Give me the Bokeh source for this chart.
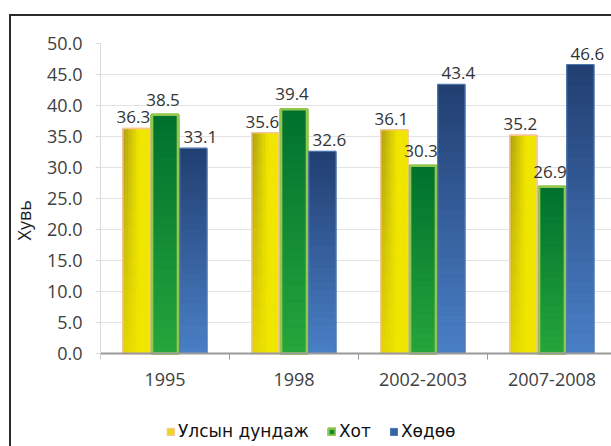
from bokeh.plotting import figure
from bokeh.models import FixedTicker, NumeralTickFormatter, Legend, LegendItem, Range1d, Title
from bokeh.core.properties import value
from bokeh.embed import file_html
from bokeh.resources import INLINE

# ---- data ----
categories = ["1995", "1998", "2002-2003", "2007-2008"]
series_names = ["Улсын дундаж", "Хот", "Хөдөө"]
national = [36.3, 35.6, 36.1, 35.2]
urban = [38.5, 39.4, 30.3, 26.9]
rural = [33.1, 32.6, 43.4, 46.6]
y_ticks = [0, 5, 10, 15, 20, 25, 30, 35, 40, 45, 50]
y_label = "Хувь"

# ---- style ----
FONT = "Open Sans"
TXT = "#404040"
BAR_W = 0.21
OFFSETS = [-0.222, 0.0, 0.22]
LABEL_DX = [-3, -2, 7]      # px, per series
LABEL_DY = [-11, -15, -11]  # px, per series
FRAME = "#2a2a2a"
W, H = 611, 446
LEFT, TOP = 100, 43
CAT_PX = 129.0
Y_PX = 6.2


def lerp(c1, c2, t):
    return "#%02x%02x%02x" % tuple(int(round(a + (b - a) * t)) for a, b in zip(c1, c2))


y_min = -(H - TOP - 50 * Y_PX) / Y_PX
p = figure(width=W, height=H, output_backend="svg", toolbar_location=None,
           x_range=Range1d(0, (W - LEFT) / CAT_PX), y_range=Range1d(y_min, 50),
           min_border_left=LEFT, min_border_right=0, min_border_top=TOP, min_border_bottom=0)
p.styles = {"background": (f"linear-gradient({FRAME},{FRAME}) 9px 14px / 2px calc(100% - 14px) no-repeat, "
                           f"linear-gradient({FRAME},{FRAME}) 9px 14px / calc(100% - 9px) 2px no-repeat, #ffffff")}
p.outline_line_color = None
p.background_fill_color = "white"
p.border_fill_color = None
p.border_fill_alpha = 0

n = len(categories)
centers = [[i + 0.5 + OFFSETS[s] for i in range(n)] for s in range(3)]

# ---- base bars (also used as legend glyphs) ----
base1 = p.vbar(x=centers[0], width=BAR_W, top=national, fill_color="#e6da10", line_color="#f7c596", line_width=1.5)
base2 = p.vbar(x=centers[1], width=BAR_W, top=urban, fill_color="#128a36", line_color="#93c74c", line_width=2.5)
base3 = p.vbar(x=centers[2], width=BAR_W, top=rural, fill_color="#3462a4", line_color="#4f79b4", line_width=1)

# yellow: 2D shading (darker at the upper-left)
Y_BRIGHT = (240, 230, 0)
Y_DARK = (172, 156, 18)
NC, NR = 10, 14
xs, ws, bots, tops, cols = [], [], [], [], []
for i, v in enumerate(national):
    cx = centers[0][i]
    for c in range(NC):
        u = (c + 0.5) / NC
        for r in range(NR):
            vv = (r + 0.5) / NR
            f = max(0.0, 1 - u / 0.6) * (0.25 + 0.75 * vv)
            xs.append(cx - BAR_W / 2 + (c + 0.5) * BAR_W / NC)
            ws.append(BAR_W / NC)
            bots.append(v * r / NR)
            tops.append(v * (r + 1) / NR)
            cols.append(lerp(Y_BRIGHT, Y_DARK, f))
p.vbar(x=xs, width=ws, bottom=bots, top=tops, fill_color=cols, line_color=cols, line_width=0.6)
p.vbar(x=centers[0], width=BAR_W, top=national, fill_color=None, line_color="#f7c596", line_width=1.5)


def vgrad(vals, cx_list, bottom_c, top_c, N=28):
    xs, bots, tops, cols = [], [], [], []
    for cx, v in zip(cx_list, vals):
        for k in range(N):
            t = (k + 0.5) / N
            xs.append(cx)
            bots.append(v * k / N)
            tops.append(v * (k + 1) / N)
            cols.append(lerp(bottom_c, top_c, t))
    p.vbar(x=xs, width=BAR_W, bottom=bots, top=tops, fill_color=cols, line_color=cols, line_width=0.6)


vgrad(urban, centers[1], (38, 166, 60), (0, 112, 46))
p.vbar(x=centers[1], width=BAR_W - 0.01, top=urban, fill_color=None, line_color="#93c74c", line_width=2.5)
vgrad(rural, centers[2], (74, 128, 199), (33, 62, 112))
p.vbar(x=centers[2], width=BAR_W, top=rural, fill_color=None, line_color="#4f79b4", line_width=1)

# ---- data labels ----
for s, vals in enumerate([national, urban, rural]):
    p.text(x=centers[s], y=vals, text=["%.1f" % v for v in vals],
           text_align="center", text_baseline="middle",
           x_offset=LABEL_DX[s], y_offset=LABEL_DY[s],
           text_font=value(FONT), text_font_size="17px", text_color="#333333")

# ---- axes ----
xa = p.xaxis[0]
xa.fixed_location = 0
xa.ticker = FixedTicker(ticks=[i + 0.5 for i in range(n)], minor_ticks=list(range(n + 1)))
xa.major_label_overrides = {i + 0.5: c for i, c in enumerate(categories)}
xa.major_tick_line_color = None
xa.major_tick_out = 0
xa.minor_tick_out = 6
xa.minor_tick_in = 0
xa.minor_tick_line_color = "#9a9a9a"
xa.axis_line_color = "#9a9a9a"
xa.axis_line_width = 2
xa.major_label_standoff = 13
xa.major_label_text_font = FONT
xa.major_label_text_font_size = "18px"
xa.major_label_text_color = TXT

ya = p.yaxis[0]
ya.bounds = (0, 50)
ya.ticker = FixedTicker(ticks=y_ticks, minor_ticks=[])
ya.formatter = NumeralTickFormatter(format="0.0")
ya.axis_line_color = "#d9d9d9"
ya.major_tick_line_color = "#d9d9d9"
ya.major_tick_out = 5
ya.major_tick_in = 0
ya.minor_tick_line_color = None
ya.major_label_standoff = 13
ya.major_label_text_font = FONT
ya.major_label_text_font_size = "18px"
ya.major_label_text_color = TXT

p.add_layout(Title(text=y_label, align="left", offset=206, standoff=15,
                   text_font=FONT, text_font_size="18px", text_font_style="normal",
                   text_color="#222222"), "left")

p.xgrid.grid_line_color = None
p.ygrid.grid_line_color = "#e3e3e3"
p.ygrid.ticker = FixedTicker(ticks=y_ticks)

# ---- legend ----
legend = Legend(items=[LegendItem(label=series_names[0], renderers=[base1]),
                       LegendItem(label=series_names[1], renderers=[base2]),
                       LegendItem(label=series_names[2], renderers=[base3])],
                orientation="horizontal", location=(66, 5),
                glyph_width=9, glyph_height=9, label_standoff=3, spacing=18,
                padding=0, margin=0, border_line_color=None, background_fill_alpha=0,
                label_text_font="DejaVu Sans", label_text_font_size="17px",
                label_text_color="#111111", label_height=20)
p.add_layout(legend, "center")

open("out.html", "w").write(file_html(p, INLINE))
